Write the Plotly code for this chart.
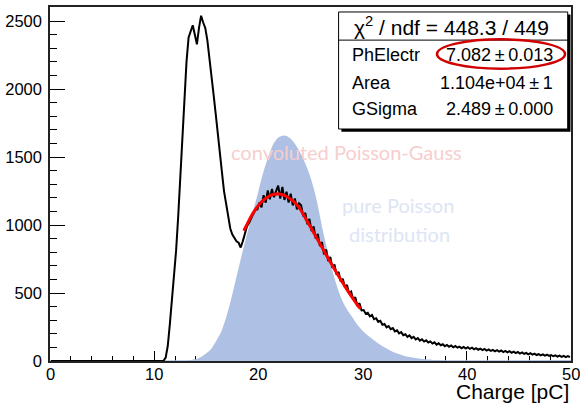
import numpy as np
import plotly.graph_objects as go

# ---- measured charge spectrum: counts per 0.2 pC bin, 0 .. 50 pC ----
bin_width = 0.2
hist_counts = [
    0, 0, 0, 0, 0, 0, 0, 0, 0, 0,                              # 0.0 - 1.8
    0, 0, 0, 0, 0, 0, 0, 0, 0, 0,                              # 2.0 - 3.8
    0, 0, 0, 0, 0, 0, 0, 0, 0, 0,                              # 4.0 - 5.8
    0, 0, 0, 0, 0, 0, 0, 0, 0, 0,                              # 6.0 - 7.8
    0, 0, 0, 0, 1, 2, 1, 0, 0, 0,                              # 8.0 - 9.8
    0, 0, 0, 0, 2, 25, 110, 270, 440, 620,                     # 10.0 - 11.8
    810, 1060, 1360, 1680, 2000, 2200, 2380, 2430, 2470, 2400,  # 12.0 - 13.8
    2330, 2450, 2540, 2490, 2450, 2360, 2240, 2100, 1960, 1820,  # 14.0 - 15.8
    1690, 1530, 1390, 1250, 1150, 1050, 975, 930, 905, 880,      # 16.0 - 17.8
    870, 835, 880, 945, 990, 1015, 1055, 1080, 1110, 1115,       # 18.0 - 19.8
    1165, 1130, 1220, 1165, 1255, 1190, 1265, 1205, 1250, 1290,  # 20.0 - 21.8
    1195, 1280, 1185, 1245, 1165, 1230, 1145, 1195, 1115, 1160,  # 22.0 - 23.8
    1145, 1065, 1090, 1005, 1045, 955, 990, 900, 935, 845,       # 24.0 - 25.8
    875, 785, 820, 735, 765, 685, 710, 635, 655, 585,            # 26.0 - 27.8
    605, 540, 560, 495, 510, 450, 470, 405, 425, 372,            # 28.0 - 29.8
    375, 348, 355, 328, 338, 308, 315, 288, 295, 266,            # 30.0 - 31.8
    272, 248, 257, 234, 242, 218, 226, 203, 212, 190,            # 32.0 - 33.8
    197, 178, 188, 168, 178, 158, 168, 150, 160, 143,            # 34.0 - 35.8
    152, 136, 144, 128, 137, 120, 130, 116, 123, 109,            # 36.0 - 37.8
    118, 105, 114, 101, 110, 98, 106, 94, 103, 92,               # 38.0 - 39.8
    102, 89, 98, 86, 95, 83, 91, 80, 88, 77,                     # 40.0 - 41.8
    85, 74, 82, 71, 80, 69, 77, 66, 74, 64,                      # 42.0 - 43.8
    72, 61, 69, 58, 66, 55, 63, 52, 60, 49,                      # 44.0 - 45.8
    57, 47, 54, 44, 51, 41, 49, 39, 46, 37,                      # 46.0 - 47.8
    44, 35, 42, 33, 40, 31, 38, 29, 36, 28,                      # 48.0 - 49.8
]

# ---- fitted convoluted Poisson-Gauss model over the fit window ----
fit_charge = [18.6, 19.0, 19.5, 20.0, 20.5, 21.0, 21.5, 22.0, 22.5, 23.0,
              23.5, 24.0, 24.5, 25.0, 25.5, 26.0, 26.5, 27.0, 27.5, 28.0,
              28.5, 29.0, 29.5, 29.8]
fit_counts = [958, 1020, 1090, 1145, 1185, 1212, 1226, 1228, 1218, 1195,
              1165, 1118, 1052, 985, 918, 850, 782, 715, 650, 586,
              525, 468, 412, 385]

# ---- pure Poisson distribution (no Gaussian smearing) ----
poisson_charge = [0.0, 13.5, 14.0, 14.5, 15.0, 15.5, 16.0, 16.5, 17.0, 17.5,
                  18.0, 18.5, 19.0, 19.5, 20.0, 20.5, 21.0, 21.5, 22.0, 22.5,
                  23.0, 23.5, 24.0, 24.5, 25.0, 25.5, 26.0, 26.5, 27.0, 27.5,
                  28.0, 28.5, 29.0, 29.5, 30.0, 30.5, 31.0, 31.5, 32.0, 32.5,
                  33.0, 33.5, 34.0, 34.5, 35.0, 35.5, 36.0, 36.5, 37.0, 50.0]
poisson_counts = [0, 0, 5, 22, 48, 80, 140, 210, 320, 460,
                  620, 780, 930, 1075, 1220, 1370, 1490, 1590, 1640, 1652,
                  1632, 1585, 1520, 1435, 1325, 1180, 990, 820, 665, 535,
                  435, 365, 310, 255, 212, 178, 148, 120, 96, 74,
                  56, 42, 30, 22, 15, 10, 6, 3, 0, 0]

# ---- axis ticks ----
x_tick_values = [0, 10, 20, 30, 40, 50]
x_tick_labels = ["0", "10", "20", "30", "40", "50"]

# ---- fit statistics ----
chi2_text = "χ<sup>2</sup> / ndf = 448.3 / 449"
stat_names = ["PhElectr", "Area", "GSigma"]
stat_values = ["7.082\u2009±\u20090.013", "1.104e+04\u2009±\u20091", "2.489\u2009±\u20090.000"]

x_range = [0, 50]
y_range = [0, 2604]

bin_centers = np.round(np.arange(len(hist_counts)) * bin_width + bin_width / 2, 3)

fig = go.Figure()

fig.add_trace(go.Scatter(
    x=poisson_charge, y=poisson_counts, mode="lines",
    line=dict(color="#aec1e4", width=2, shape="spline", smoothing=0.6),
    fill="tozeroy", fillcolor="#aec1e4", hoverinfo="skip",
))
fig.add_trace(go.Scatter(
    x=bin_centers, y=hist_counts, mode="lines",
    line=dict(color="black", width=2), hoverinfo="skip",
))
fig.add_trace(go.Scatter(
    x=fit_charge, y=fit_counts, mode="lines",
    line=dict(color="#ff0000", width=3, shape="spline"), hoverinfo="skip",
))

font_family = "Liberation Sans, Arial, sans-serif"
tick_font = dict(family=font_family, size=16.5, color="black")

fig.update_xaxes(
    range=x_range, tickvals=x_tick_values, showticklabels=False,
    ticks="inside", ticklen=10, tickwidth=1, tickcolor="black",
    minor=dict(dtick=2, ticks="inside", ticklen=5, tickcolor="black"),
    showline=True, linecolor="#222222", linewidth=1.5, mirror=True,
    showgrid=False, zeroline=False, layer="below traces",
)
fig.update_yaxes(
    range=y_range, dtick=500, tick0=0, ticks="inside", ticklen=15, tickwidth=1,
    tickcolor="black", minor=dict(dtick=100, ticks="inside", ticklen=7, tickcolor="black"),
    showline=True, linecolor="#222222", linewidth=1.5, mirror=True,
    showgrid=False, zeroline=False, tickfont=tick_font, layer="below traces",
    ticklabelstandoff=3,
)

# plot-area geometry in pixels, used to place the stats panel
W, H = 580, 405
ml, mr, mt, mb = 48, 9, 5, 44
pw, ph = W - ml - mr, H - mt - mb


def px(xp):
    return (xp - ml) / pw


def py(yp):
    return (H - mb - yp) / ph


shapes = []
# stats box shadow and box
shapes.append(dict(type="rect", xref="paper", yref="paper",
                   x0=px(340.5), x1=px(570.5), y0=py(130.5), y1=py(12.5),
                   fillcolor="black", line=dict(width=0), layer="above"))
shapes.append(dict(type="rect", xref="paper", yref="paper",
                   x0=px(337.7), x1=px(567.7), y0=py(127.7), y1=py(10),
                   fillcolor="white", line=dict(color="black", width=1), layer="above"))
shapes.append(dict(type="line", xref="paper", yref="paper",
                   x0=px(337.7), x1=px(567.7), y0=py(38.3), y1=py(38.3),
                   line=dict(color="black", width=1), layer="above"))
# highlight around the photo-electron result
shapes.append(dict(type="circle", xref="paper", yref="paper",
                   x0=px(436.5), x1=px(565), y0=py(67), y1=py(37.5),
                   line=dict(color="#d00000", width=2.5), layer="above"))

stat_font = dict(family=font_family, size=18, color="black")
annotations = [
    dict(x=px(451), y=py(24.5), xref="paper", yref="paper", text=chi2_text,
         showarrow=False, xanchor="center", yanchor="middle",
         font=dict(family=font_family, size=21, color="black")),
]
for name, val, yp in zip(stat_names, stat_values, [53.3, 81.7, 107.5]):
    annotations.append(dict(x=px(349), y=py(yp), xref="paper", yref="paper", text=name,
                            showarrow=False, xanchor="left", yanchor="middle", font=stat_font))
    annotations.append(dict(x=px(555), y=py(yp), xref="paper", yref="paper", text=val,
                            showarrow=False, xanchor="right", yanchor="middle", font=stat_font))

# x tick labels placed on the data scale, just under the frame
for tv, tl in zip(x_tick_values, x_tick_labels):
    annotations.append(dict(x=tv, y=py(374.5), xref="x", yref="paper", text=tl,
                            showarrow=False, xanchor="center", yanchor="middle",
                            font=tick_font))

# in-plot labels
label_font = "Lato, DejaVu Sans, sans-serif"
annotations.append(dict(x=px(346), y=py(151), xref="paper", yref="paper",
                        text="convoluted Poisson-Gauss", showarrow=False,
                        xanchor="center", yanchor="middle",
                        font=dict(family=label_font, size=20, color="#f6cece")))
annotations.append(dict(x=px(397), y=py(204), xref="paper", yref="paper",
                        text="pure Poisson", showarrow=False,
                        xanchor="center", yanchor="middle",
                        font=dict(family=label_font, size=20, color="#dde5f5")))
annotations.append(dict(x=px(398.5), y=py(233), xref="paper", yref="paper",
                        text="distribution", showarrow=False,
                        xanchor="center", yanchor="middle",
                        font=dict(family=label_font, size=20, color="#dde5f5")))
# x-axis title, right-aligned under the frame
annotations.append(dict(x=1.0, y=py(392), xref="paper", yref="paper",
                        text="Charge [pC]", showarrow=False,
                        xanchor="right", yanchor="middle",
                        font=dict(family=font_family, size=21, color="black")))

fig.update_layout(
    width=W, height=H,
    margin=dict(l=ml, r=mr, t=mt, b=mb, pad=0),
    paper_bgcolor="white", plot_bgcolor="white",
    showlegend=False, shapes=shapes, annotations=annotations,
)

fig.write_html("out.html")
